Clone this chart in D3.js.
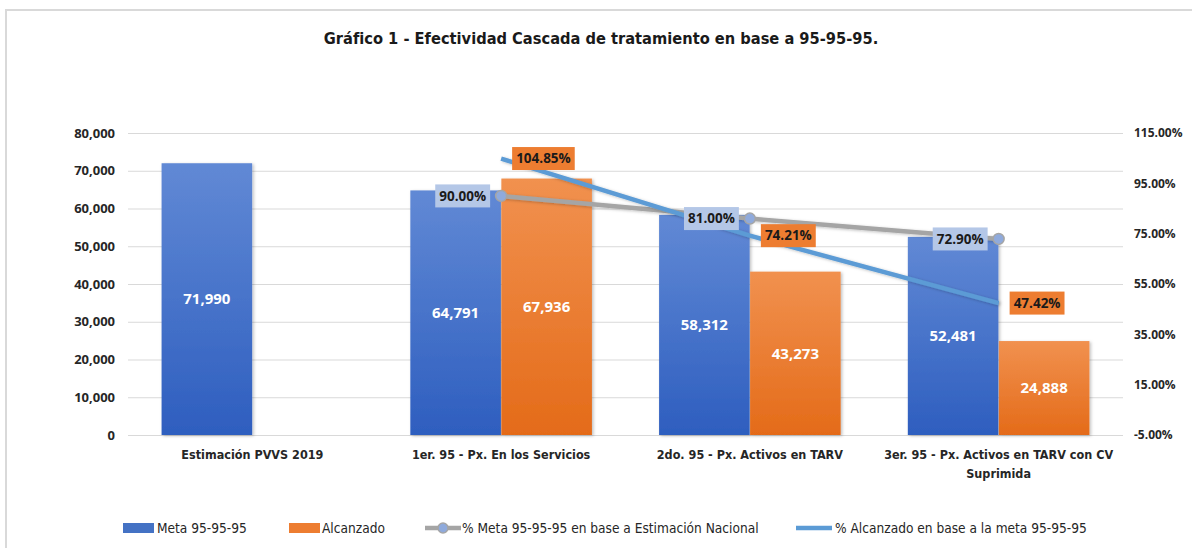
<!DOCTYPE html>
<html lang="es">
<head>
<meta charset="UTF-8">
<title>Gráfico 1 - Efectividad Cascada</title>
<script src="https://d3js.org/d3.v7.min.js"></script>
<style>
    body, html { margin: 0; padding: 0; overflow: hidden; background: #fff; }
    svg { display: block; }
    .tick-lbl { font-family: "Open Sans", sans-serif; font-weight: 700; font-size: 13px; fill: #262626; }
    .tick-r { font-size: 12px; }
    .cat { font-family: "DejaVu Sans Condensed", sans-serif; font-weight: 700; font-size: 12.5px; fill: #262626; }
    .leg { font-family: "DejaVu Sans Condensed", sans-serif; font-size: 13.6px; fill: #262626; }
    .val { font-family: "Open Sans", sans-serif; font-weight: 700; font-size: 15px; fill: #fff; }
    .pct { font-family: "Open Sans", sans-serif; font-weight: 700; font-size: 13.5px; fill: #1a1a1a; }
</style>
</head>
<body>
<svg width="1192" height="548"></svg>
<script>
// chart data
const categories = ["Estimación PVVS 2019", "1er. 95 - Px. En los Servicios", "2do. 95 - Px. Activos en TARV", "3er. 95 - Px. Activos en TARV con CV Suprimida"];
const meta = [71990, 64791, 58312, 52481];
const alcanzado = [null, 67936, 43273, 24888];
const pctMeta = [null, 90.00, 81.00, 72.90];
const pctAlcanzado = [null, 104.85, 74.21, 47.42];
const leftTicks = [0, 10000, 20000, 30000, 40000, 50000, 60000, 70000, 80000];
const rightTicks = [-5, 15, 35, 55, 75, 95, 115];
const seriesNames = ["Meta 95-95-95", "Alcanzado", "% Meta 95-95-95 en base a Estimación Nacional", "% Alcanzado en base a la meta 95-95-95"];
const title = "Gráfico 1 - Efectividad Cascada de tratamiento en base a 95-95-95.";

const svg = d3.select("svg");
const plot = { left: 128, right: 1123, top: 133, bottom: 435 };

// outer frame
svg.append("rect").attr("x", 6).attr("y", 10).attr("width", 1300).attr("height", 700)
    .attr("fill", "none").attr("stroke", "#d9d9d9").attr("stroke-width", 2);

// gradients + shadow
const defs = svg.append("defs");
function grad(id, top, bottom) {
    const g = defs.append("linearGradient").attr("id", id).attr("x1", 0).attr("y1", 0).attr("x2", 0).attr("y2", 1);
    g.append("stop").attr("offset", "0%").attr("stop-color", top);
    g.append("stop").attr("offset", "100%").attr("stop-color", bottom);
}
grad("gBlue", "#6189d5", "#2e5ebf");
grad("gOrange", "#f1914f", "#e46b19");
defs.append("filter").attr("id", "shadow").attr("x", "-10%").attr("y", "-10%").attr("width", "130%").attr("height", "130%")
    .append("feDropShadow").attr("dx", 1.5).attr("dy", 1).attr("stdDeviation", 1.5)
    .attr("flood-color", "#000").attr("flood-opacity", 0.25);

// scales
const x0 = d3.scaleBand().domain(categories).range([plot.left, plot.right]).paddingInner(0.27).paddingOuter(0.135);
const x1 = d3.scaleBand().domain(["meta", "alc"]).range([0, x0.bandwidth()]).paddingInner(0.005);
const yL = d3.scaleLinear().domain([0, 80000]).range([plot.bottom, plot.top]);
const yR = d3.scaleLinear().domain([-5, 115]).range([plot.bottom, plot.top]);
const cx = c => x0(c) + x0.bandwidth() / 2;

// title
svg.append("text").attr("x", 601).attr("y", 44).attr("text-anchor", "middle")
    .style("font-family", "'DejaVu Sans Condensed', sans-serif")
    .style("font-weight", 700).style("font-size", "16.3px").attr("fill", "#1a1a1a").text(title);

// gridlines + left axis
const gl = svg.append("g").attr("transform", `translate(${plot.left},0)`)
    .call(d3.axisLeft(yL).tickValues(leftTicks).tickSize(-(plot.right - plot.left)).tickFormat(d3.format(",")).tickPadding(13));
gl.select(".domain").remove();
gl.selectAll(".tick line").attr("stroke", "#d9d9d9");
gl.selectAll(".tick text").attr("class", "tick-lbl").attr("fill", null);

// right axis
const gr = svg.append("g").attr("transform", `translate(${plot.right},0)`)
    .call(d3.axisRight(yR).tickValues(rightTicks).tickSize(0).tickFormat(d => d.toFixed(2) + "%").tickPadding(11));
gr.select(".domain").remove();
gr.selectAll(".tick text").attr("class", "tick-lbl tick-r").attr("fill", null);

// bars
const rows = categories.map((c, i) => ({ c, meta: meta[i], alc: alcanzado[i] }));
const bars = [];
rows.forEach(r => {
    bars.push({ c: r.c, key: "meta", v: r.meta });
    if (r.alc != null) bars.push({ c: r.c, key: "alc", v: r.alc });
});
svg.append("g").selectAll("rect").data(bars).join("rect")
    .attr("x", d => x0(d.c) + x1(d.key))
    .attr("width", x1.bandwidth())
    .attr("y", d => yL(d.v))
    .attr("height", d => yL(0) - yL(d.v))
    .attr("fill", d => d.key === "meta" ? "url(#gBlue)" : "url(#gOrange)")
    .attr("filter", "url(#shadow)");

svg.append("g").selectAll("text").data(bars).join("text")
    .attr("class", "val")
    .attr("x", d => x0(d.c) + x1(d.key) + x1.bandwidth() / 2)
    .attr("y", d => (yL(d.v) + yL(0)) / 2)
    .attr("dy", "0.35em")
    .attr("text-anchor", "middle")
    .text(d => d3.format(",")(d.v));

// category labels (wrap)
function wrap(sel, width) {
    sel.each(function () {
        const t = d3.select(this);
        const words = t.text().split(/\s+/);
        t.text(null);
        let line = [];
        let ts = t.append("tspan").attr("x", t.attr("x")).attr("dy", 0);
        words.forEach(w => {
            line.push(w);
            ts.text(line.join(" "));
            if (ts.node().getComputedTextLength() > width && line.length > 1) {
                line.pop();
                ts.text(line.join(" "));
                line = [w];
                ts = t.append("tspan").attr("x", t.attr("x")).attr("dy", "1.5em").text(w);
            }
        });
    });
}
svg.append("g").selectAll("text").data(categories).join("text")
    .attr("class", "cat")
    .attr("x", d => cx(d))
    .attr("y", 459)
    .attr("text-anchor", "middle")
    .text(d => d)
    .call(wrap, 235);

// lines
const lineGen = d3.line().defined(d => d.v != null).x(d => cx(d.c)).y(d => yR(d.v));
const metaPts = categories.map((c, i) => ({ c, v: pctMeta[i] }));
const alcPts = categories.map((c, i) => ({ c, v: pctAlcanzado[i] }));

svg.append("path").datum(metaPts).attr("d", lineGen)
    .attr("fill", "none").attr("stroke", "#a5a5a5").attr("stroke-width", 4.5).attr("filter", "url(#shadow)");
svg.append("g").selectAll("circle").data(metaPts.filter(d => d.v != null)).join("circle")
    .attr("cx", d => cx(d.c)).attr("cy", d => yR(d.v)).attr("r", 5.5)
    .attr("fill", "#8faadc").attr("stroke", "#a5a5a5").attr("stroke-width", 1.5);
svg.append("path").datum(alcPts).attr("d", lineGen)
    .attr("fill", "none").attr("stroke", "#5b9bd5").attr("stroke-width", 4.5).attr("filter", "url(#shadow)");

// line data labels
function pctLabels(pts, fill, side) {
    const g = svg.append("g");
    pts.filter(d => d.v != null).forEach(d => {
        const lg = g.append("g");
        const t = lg.append("text").attr("class", "pct").attr("dy", "0.35em")
            .attr("x", 0).attr("y", 0).text(d.v.toFixed(2) + "%");
        const w = t.node().getComputedTextLength() + 8;
        const h = 23;
        const bx = side === "left" ? cx(d.c) - 11 - w : cx(d.c) + 11;
        const by = yR(d.v) - h / 2;
        lg.insert("rect", "text").attr("x", bx).attr("y", by).attr("width", w).attr("height", h).attr("fill", fill);
        t.attr("x", bx + 4).attr("y", yR(d.v));
    });
}
pctLabels(metaPts, "#b4c7e7", "left");
pctLabels(alcPts, "#ed7d31", "right");

// legend
const leg = svg.append("g");
const ly = 528;
leg.append("rect").attr("x", 123).attr("y", ly - 5).attr("width", 31).attr("height", 10).attr("fill", "#4472c4");
leg.append("text").attr("class", "leg").attr("x", 157).attr("y", ly).attr("dy", "0.35em").text(seriesNames[0]);
leg.append("rect").attr("x", 289).attr("y", ly - 5).attr("width", 31).attr("height", 10).attr("fill", "#ed7d31");
leg.append("text").attr("class", "leg").attr("x", 322).attr("y", ly).attr("dy", "0.35em").text(seriesNames[1]);
leg.append("line").attr("x1", 425).attr("x2", 461).attr("y1", ly).attr("y2", ly).attr("stroke", "#a5a5a5").attr("stroke-width", 4.5);
leg.append("circle").attr("cx", 443).attr("cy", ly).attr("r", 5).attr("fill", "#8faadc").attr("stroke", "#a5a5a5").attr("stroke-width", 1.5);
leg.append("text").attr("class", "leg").attr("x", 462).attr("y", ly).attr("dy", "0.35em").text(seriesNames[2]);
leg.append("line").attr("x1", 796).attr("x2", 832).attr("y1", ly).attr("y2", ly).attr("stroke", "#5b9bd5").attr("stroke-width", 4.5);
leg.append("text").attr("class", "leg").attr("x", 835).attr("y", ly).attr("dy", "0.35em").text(seriesNames[3]);
</script>
</body>
</html>
